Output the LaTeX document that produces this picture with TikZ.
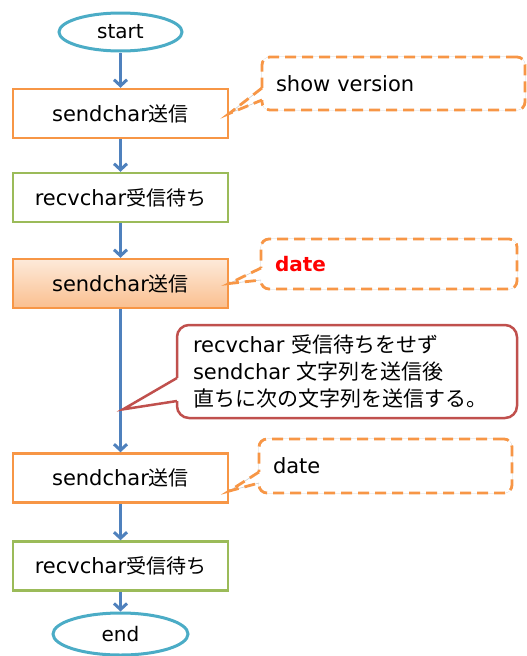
\documentclass[tikz,border=0pt]{standalone}
\usepackage{fontspec}
\setmainfont{DejaVu Sans}
\newfontfamily\jp{Noto Sans CJK JP}
\usetikzlibrary{arrows.meta,calc,shapes.geometric}
\definecolor{flowblue}{HTML}{4F81BD}
\definecolor{termaqua}{HTML}{4BACC6}
\definecolor{sendorange}{HTML}{F79646}
\definecolor{recvgreen}{HTML}{9BBB59}
\definecolor{notered}{HTML}{C0504D}
\definecolor{shadetop}{HTML}{FDEADA}
\definecolor{shadebot}{HTML}{FABF8F}
\def\boxwidth{215}
\def\boxheight{49}
\newcommand\boxjp[1]{{\jp\fontsize{20}{24}\selectfont #1}}

\begin{document}
\begin{tikzpicture}[x=1pt,y=-1pt,
        terminal/.style={ellipse,draw=termaqua,fill=white,line width=3pt,
            inner sep=0pt,font=\fontsize{20}{24}\selectfont},
        sendbox/.style={draw=sendorange,fill=white,line width=2.5pt,
            minimum width=\boxwidth pt,minimum height=\boxheight pt,
            inner sep=0pt,font=\fontsize{21}{25}\selectfont},
        recvbox/.style={sendbox,draw=recvgreen},
        flow/.style={flowblue,line width=3pt,-{Straight Barb[length=6pt,width=13pt]}},
        memoline/.style={draw=sendorange,line width=2.8pt,dash pattern=on 11pt off 6pt,
            preaction={draw=black!20,line width=0.6pt,solid}},
        memo/.style={memoline,rounded corners=8pt,outer sep=0pt,
            preaction={fill=white},align=left,inner xsep=14pt,
            font=\fontsize{21}{25}\selectfont},
        noteline/.style={draw=notered,line width=2.5pt,line join=miter},
        note/.style={noteline,fill=white,rounded corners=12pt,outer sep=0pt,
            align=left,inner xsep=16pt,font=\fontsize{21}{27}\selectfont},
    ]
    \useasboundingbox (0,0) rectangle (527,656);

    % flow
    \node[terminal,minimum width=123pt,minimum height=38pt] (start) at (120.5,32) {start};
    \node[sendbox] (send1) at (120.5,113.5) {sendchar\boxjp{送信}};
    \node[recvbox] (recv1) at (120.5,197.5) {recvchar\boxjp{受信待ち}};
    \node[sendbox,top color=shadetop,bottom color=shadebot] (send2) at (120.5,283.5) {sendchar\boxjp{送信}};
    \node[sendbox] (send3) at (120.5,478) {sendchar\boxjp{送信}};
    \node[recvbox] (recv2) at (120.5,566) {recvchar\boxjp{受信待ち}};
    \node[terminal,minimum width=135pt,minimum height=42pt] (finish) at (120.5,634) {end};
    \foreach \a/\b in {start/send1,send1/recv1,recv1/send2,send2/send3,send3/recv2,recv2/finish}
        \draw[flow] (\a) -- (\b);

    % memos
    \node[memo,text width=235pt,minimum height=53pt] (memo1) at (393.5,83.5) {show version};
    \node[memo,text width=228pt,minimum height=50pt,text=red,
        font=\bfseries\fontsize{20}{24}\selectfont] (memo2) at (389,264) {date};
    \node[memo,text width=225pt,minimum height=54pt] (memo3) at (385.5,466) {date};
    \node[note,text width=308pt,minimum height=93pt] (remark) at (347,371.5)
        {recvchar {\jp 受信待ちをせず}\\sendchar {\jp 文字列を送信後}\\{\jp 直ちに次の文字列を送信する。}};

    \coordinate (tip1) at (send1.east);
    \coordinate (tip2) at (send2.east);
    \coordinate (tip3) at ([yshift=-13pt]send3.east);
    \coordinate (tip4) at ([xshift=2.5pt]$(send2.south)!0.7!(send3.north)$);
    \coordinate (memo1a) at ($(memo1.west)+(0,4.5)$);
    \coordinate (memo1b) at ($(memo1.west)+(0,16.5)$);
    \coordinate (memo2a) at ($(memo2.west)+(0,4)$);
    \coordinate (memo2b) at ($(memo2.west)+(0,16)$);
    \coordinate (memo3a) at ($(memo3.west)+(0,6)$);
    \coordinate (memo3b) at ($(memo3.west)+(0,17)$);
    \coordinate (remarka) at ($(remark.west)+(0,6.5)$);
    \coordinate (remarkb) at ($(remark.west)+(0,29.5)$);

    \foreach \m/\t in {memo1/tip1,memo2/tip2,memo3/tip3}{
        \fill[white] ([xshift=-2pt]\m a) rectangle ([xshift=2pt]\m b);
        \draw[memoline] (\m a) -- (\t) -- (\m b);
    }
    \fill[white] ([xshift=-2pt]remarka) rectangle ([xshift=2pt]remarkb);
    \draw[noteline] (remarka) -- (tip4) -- (remarkb);

\end{tikzpicture}
\end{document}
